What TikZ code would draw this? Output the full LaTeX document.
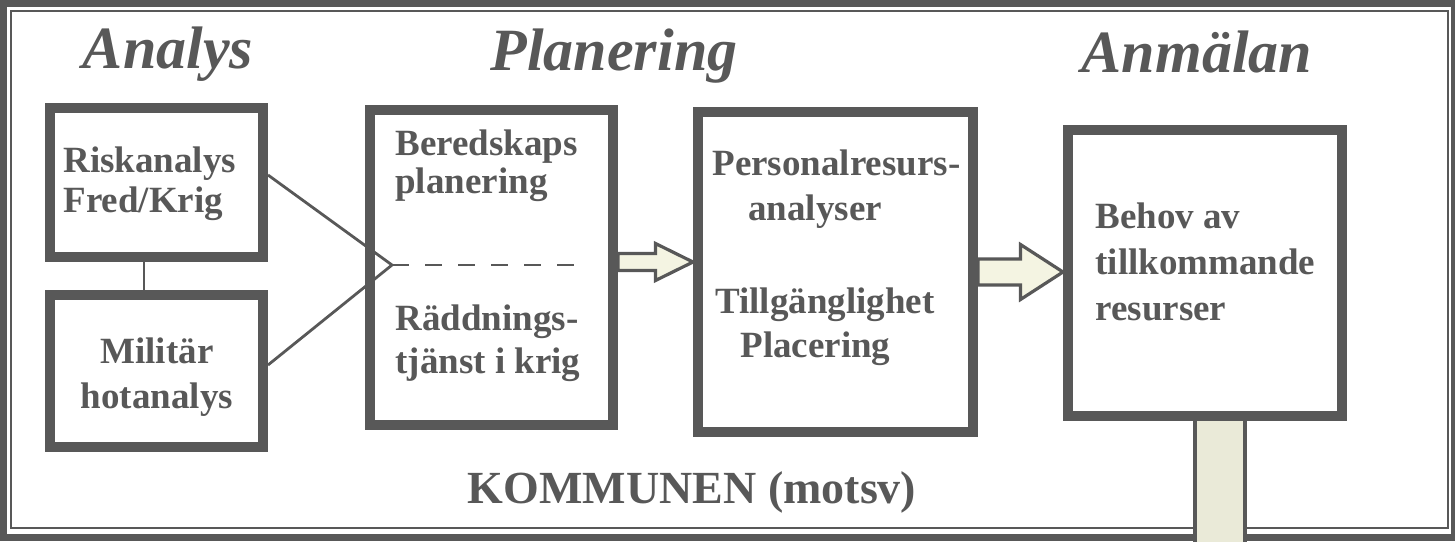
\documentclass[tikz,border=0pt]{standalone}
\usepackage{fontspec}
\setmainfont{Liberation Serif}
\usetikzlibrary{calc}
\definecolor{ink}{HTML}{585858}
\definecolor{arrowfill}{HTML}{F4F4E2}
\definecolor{barfill}{HTML}{EAEAD8}
\tikzset{
  stage/.style={draw=ink, line width=5pt, fill=white, inner sep=0pt},
  boxtext/.style={text=ink, inner sep=0pt, font=\bfseries\fontsize{18.5}{20}\selectfont},
  heading/.style={text=ink, inner sep=0pt, anchor=base, font=\bfseries\itshape\fontsize{30}{31}\selectfont},
  link/.style={draw=ink, line width=1.4pt},
  sepline/.style={draw=ink, line width=1.4pt, dash pattern=on 8.5pt off 8pt},
  fatarrow/.style={draw=ink, fill=arrowfill, line width=1.6pt, line join=miter},
}
% block arrow: from, to, half shaft, half head
\newcommand{\blockarrow}[4]{%
  \filldraw[fatarrow] let \p1=(#1), \p2=(#2) in
    (\x1,\y1+#3) -- ({0.5*(\x1+\x2)},\y1+#3) -- ({0.5*(\x1+\x2)},\y1+#4)
    -- (\x2,\y1) -- ({0.5*(\x1+\x2)},\y1-#4) -- ({0.5*(\x1+\x2)},\y1-#3)
    -- (\x1,\y1-#3) -- cycle;
}

\begin{document}
\begin{tikzpicture}[x=0.5pt, y=-0.5pt]
    \useasboundingbox (0,0) rectangle (1455,541);
    % frame
    \draw[ink, line width=3.5pt] (3.5,3.5) rectangle (1454,537.5);
    \draw[ink, line width=1pt] (11,11) rectangle (1447.5,528);
    % headings
    \node[heading] (tanalys) at (168,68) {Analys};
    \node[heading] (tplan) at (614,70) {Planering};
    \node[heading] (tanm) at (1197,72) {Anmälan};
    % boxes
    \node[stage, minimum width=106.5pt, minimum height=74.5pt] (r1) at (156.5,182.5) {};
    \node[stage, minimum width=106.5pt, minimum height=76pt] (r2) at (156.5,371) {};
    \node[stage, minimum width=121.5pt, minimum height=157.5pt] (p1) at (491.5,267.5) {};
    \node[stage, minimum width=137.5pt, minimum height=160pt] (p2) at (835.5,272) {};
    \node[stage, minimum width=137pt, minimum height=143pt] (a1) at (1205,273) {};
    % texts (base = last line)
    \node[boxtext, align=left, anchor=base west] (r1t) at (63,212) {Riskanalys\\Fred/Krig};
    \node[boxtext, align=center, anchor=base, font=\bfseries\fontsize{18.5}{22.5}\selectfont] (r2t) at (157,408) {Militär\\hotanalys};
    \node[boxtext, align=left, anchor=base west, font=\bfseries\fontsize{18.5}{19}\selectfont] (p1t) at (395,193) {Beredskaps\\planering};
    \node[boxtext, align=left, anchor=base west, font=\bfseries\fontsize{18.5}{21.5}\selectfont] (p1b) at (395,373) {Räddnings-\\tjänst i krig};
    \node[boxtext, anchor=base west] (p2a) at (712,175) {Personalresurs-};
    \node[boxtext, anchor=base west] (p2b) at (748,220) {analyser};
    \node[boxtext, anchor=base west] (p2c) at (715,313) {Tillgänglighet};
    \node[boxtext, anchor=base west] (p2d) at (740,357) {Placering};
    \node[boxtext, align=left, anchor=base west, font=\bfseries\fontsize{18.5}{23}\selectfont] (a1t) at (1095,320) {Behov av\\tillkommande\\resurser};
    \node[text=ink, inner sep=0pt, anchor=base, font=\bfseries\fontsize{23}{25}\selectfont] (kommun) at (692,503) {KOMMUNEN (motsv)};
    % links
    \coordinate (tip) at ([xshift=13.5pt,yshift=1.25pt]p1.west);
    \draw[link] ([xshift=-6.25pt]r1.south) -- ([xshift=-6.25pt]r2.north);
    \draw[link] ([yshift=3.75pt]r1.east) -- (tip) -- ([yshift=3pt]r2.east);
    \draw[sepline] (tip) -- ++(186,0);
    \blockarrow{[yshift=2.75pt]p1.east}{p2.west}{4.25pt}{9.25pt}
    \blockarrow{p2.east}{a1.west}{6.5pt}{13.75pt}
    % bar below
    \fill[barfill] ([xshift=-5pt]a1.south) rectangle ([xshift=20pt,yshift=-62pt]a1.south);
    \draw[ink, line width=1.8pt] ([xshift=-5pt]a1.south) -- ++(0,125);
    \draw[ink, line width=1.8pt] ([xshift=20pt]a1.south) -- ++(0,125);
\end{tikzpicture}
\end{document}
